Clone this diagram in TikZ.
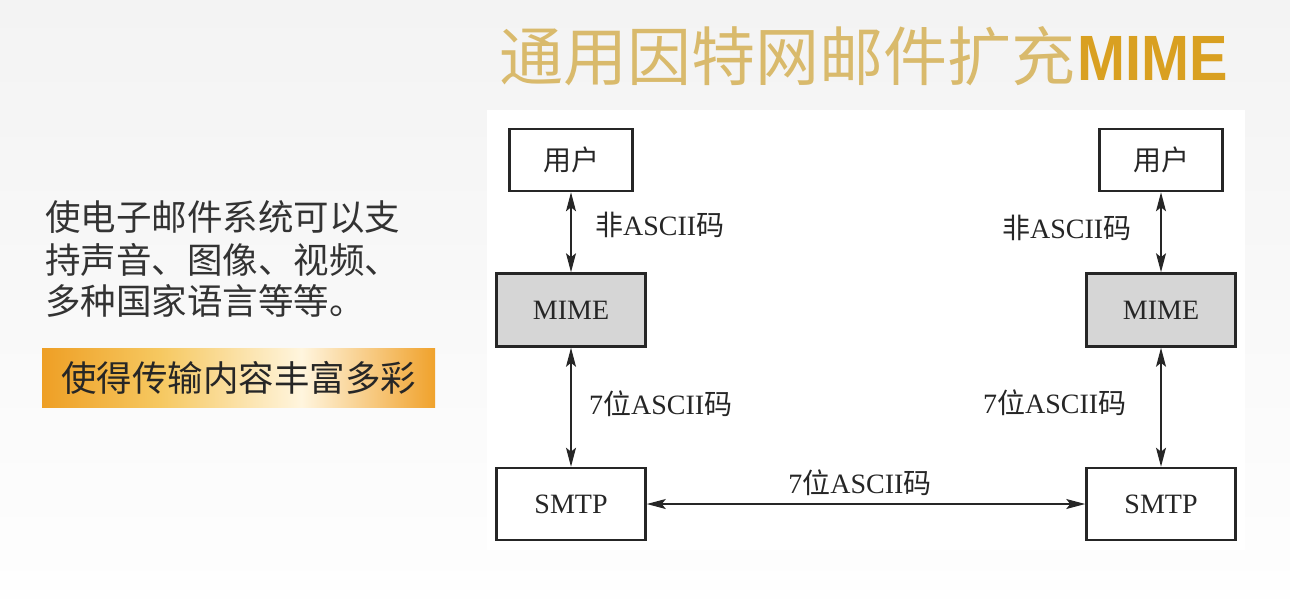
\documentclass[tikz,border=0pt]{standalone}
\usepackage{fontspec}
\usepackage{graphicx}
\setmainfont{Liberation Serif}
\setsansfont{Liberation Sans}
\newfontfamily\cjk{Noto Sans CJK SC}
\usetikzlibrary{arrows.meta}
\definecolor{bgtop}{HTML}{F3F3F3}
\definecolor{bgbot}{HTML}{FEFEFE}
\definecolor{titlegold}{HTML}{D9BA6C}
\definecolor{mimegold}{HTML}{D9A021}
\definecolor{ink}{HTML}{262626}
\definecolor{leftink}{HTML}{333333}
\definecolor{mimefill}{HTML}{D6D6D6}
\definecolor{hlA}{HTML}{EE9F25}
\definecolor{hlB}{HTML}{F6C860}
\definecolor{hlC}{HTML}{FFF5DE}
\definecolor{hlD}{HTML}{F0A22C}
\pgfdeclarehorizontalshading{hlshade}{100bp}{color(0bp)=(hlA); color(25bp)=(hlA); color(40bp)=(hlB); color(58bp)=(hlC); color(75bp)=(hlD); color(100bp)=(hlD)}
\begin{document}
\begin{tikzpicture}[x=1pt,y=-1pt,
  box/.style={draw=ink, line width=2.6pt, fill=white, inner sep=0pt, text=ink, font=\fontsize{28}{30}\selectfont},
  mimebox/.style={box, fill=mimefill},
  dbl/.style={line width=1.3pt, draw=ink, arrows={Stealth[length=19pt,width=10pt,inset=4pt]-Stealth[length=19pt,width=10pt,inset=4pt]}},
  lbl/.style={inner sep=0pt, text=ink, font=\fontsize{28}{30}\selectfont},
  lefttxt/.style={inner sep=0pt, anchor=base west, text=leftink, font=\cjk\fontsize{35.5}{40}\selectfont}
]
\useasboundingbox (0,0) rectangle (1290,598);
\shade[top color=bgtop, bottom color=bgbot] (0,0) rectangle (1290,598);
% panel
\fill[white] (487,110) rectangle (1245,550);
% title
\node[anchor=base west, inner sep=0pt, text=titlegold, font=\cjk\fontsize{64}{64}\selectfont] (title) at (499,80) {通用因特网邮件扩充\kern2pt{\sffamily\bfseries\color{mimegold}\scalebox{0.9}[1]{MIME}}};
% left text
\node[lefttxt] (t1) at (45,230) {使电子邮件系统可以支};
\node[lefttxt] (t2) at (45,273) {持声音、图像、视频、};
\node[lefttxt] (t3) at (45,314) {多种国家语言等等。};
\node[shade, shading=hlshade, minimum width=393pt, minimum height=59pt, inner sep=0pt, text=ink, font=\cjk\fontsize{35.5}{40}\selectfont] (hl) at (238.5,377.5) {使得传输内容丰富多彩};
% boxes
\node[box, minimum width=123pt, minimum height=62pt] (lu) at (571,160) {\cjk 用户};
\node[mimebox, minimum width=149pt, minimum height=73pt] (lm) at (571,310) {MIME};
\node[box, minimum width=149pt, minimum height=72pt] (ls) at (571,504) {SMTP};
\node[box, minimum width=123pt, minimum height=62pt] (ru) at (1161,160) {\cjk 用户};
\node[mimebox, minimum width=149pt, minimum height=73pt] (rm) at (1161,310) {MIME};
\node[box, minimum width=149pt, minimum height=72pt] (rs) at (1161,504) {SMTP};
% arrows
\draw[dbl] (lu.south) -- (lm.north);
\draw[dbl] (lm.south) -- (ls.north);
\draw[dbl] (ru.south) -- (rm.north);
\draw[dbl] (rm.south) -- (rs.north);
\draw[dbl] (ls.east) -- (rs.west);
% labels
\node[lbl, anchor=west] (a1) at (595,225) {{\cjk 非}ASCII{\cjk 码}};
\node[lbl, anchor=west] (a2) at (1002,228) {{\cjk 非}ASCII{\cjk 码}};
\node[lbl, anchor=west] (a3) at (589,404) {7{\cjk 位}ASCII{\cjk 码}};
\node[lbl, anchor=west] (a4) at (983,403) {7{\cjk 位}ASCII{\cjk 码}};
\node[lbl] (a5) at (860,483) {7{\cjk 位}ASCII{\cjk 码}};
\end{tikzpicture}
\end{document}
